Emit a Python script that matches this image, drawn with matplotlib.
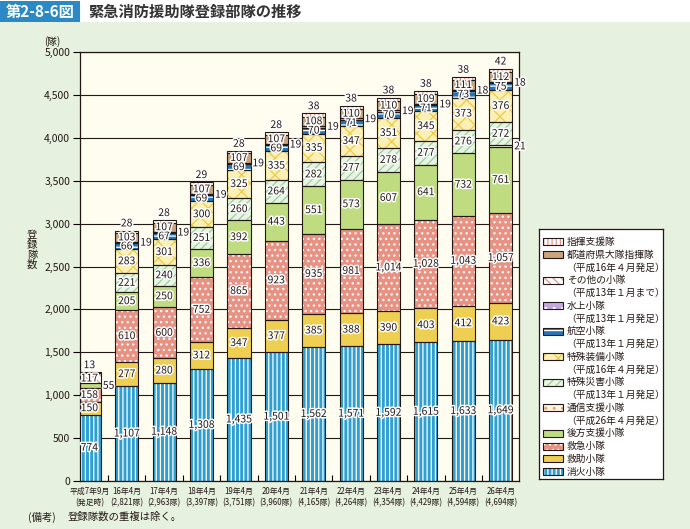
import numpy as np
import matplotlib
matplotlib.use("Agg")
import matplotlib.pyplot as plt
import matplotlib.patheffects as pe
from matplotlib.patches import Rectangle

plt.rcParams['font.family'] = ['Noto Sans CJK JP', 'DejaVu Sans']
plt.rcParams['hatch.linewidth'] = 0.9

#----------------------------------------------------------------------------#
            # Data #
#----------------------------------------------------------------------------#

periods = ['平成7年9月\n(発足時)', '16年4月\n(2,821隊)', '17年4月\n(2,963隊)',
           '18年4月\n(3,397隊)', '19年4月\n(3,751隊)', '20年4月\n(3,960隊)',
           '21年4月\n(4,165隊)', '22年4月\n(4,264隊)', '23年4月\n(4,354隊)',
           '24年4月\n(4,429隊)', '25年4月\n(4,594隊)', '26年4月\n(4,694隊)']

shoka = [774, 1107, 1148, 1308, 1435, 1501, 1562, 1571, 1592, 1615, 1633, 1649]
kyujo = [150, 277, 280, 312, 347, 377, 385, 388, 390, 403, 412, 423]
kyukyu = [158, 610, 600, 752, 865, 923, 935, 981, 1014, 1028, 1043, 1057]
kohou = [55, 205, 250, 336, 392, 443, 551, 573, 607, 641, 732, 761]
tsushin = [0, 0, 0, 0, 0, 0, 0, 0, 0, 0, 0, 21]
tokusai = [0, 221, 240, 251, 260, 264, 282, 277, 278, 277, 276, 272]
tokuso = [0, 283, 301, 300, 325, 335, 335, 347, 351, 345, 373, 376]
koku = [0, 66, 67, 69, 69, 69, 70, 71, 70, 71, 73, 75]
suijo = [0, 19, 19, 19, 19, 19, 19, 19, 19, 19, 18, 18]
sonota = [117, 0, 0, 0, 0, 0, 0, 0, 0, 0, 0, 0]
todofuken = [0, 103, 107, 107, 107, 107, 108, 110, 110, 109, 111, 112]
shiki = [13, 28, 28, 29, 28, 28, 38, 38, 38, 38, 38, 42]

legend_labels = ['指揮支援隊', '都道府県大隊指揮隊\n（平成16年４月発足）',
                 'その他の小隊\n（平成13年１月まで）', '水上小隊\n（平成13年１月発足）',
                 '航空小隊\n（平成13年１月発足）', '特殊装備小隊\n（平成16年４月発足）',
                 '特殊災害小隊\n（平成13年１月発足）', '通信支援小隊\n（平成26年４月発足）',
                 '後方支援小隊', '救急小隊', '救助小隊', '消火小隊']

#----------------------------------------------------------------------------#
            # Styles (bottom -> top) #
#----------------------------------------------------------------------------#

# (values, face, hatch, hatch colour, label place)
series = [
    (shoka, '#2E9FD0', '||||', 'white', 'in'),
    (kyujo, '#EFCF52', None, '#EFCF52', 'in'),
    (kyukyu, '#E89283', '...', 'white', 'in'),
    (kohou, '#BFDD80', None, '#BFDD80', 'in'),
    (tsushin, '#FDF3E6', '..', '#F0A050', 'right'),
    (tokusai, '#E9F5E3', '////', '#98CFA0', 'in'),
    (tokuso, '#FBF0B6', 'xx', '#EDCB45', 'in'),
    (koku, '#2276B8', '---', 'white', 'in'),
    (suijo, '#C3A8DE', '..', 'white', 'right'),
    (sonota, 'white', '\\\\\\\\', '#E8907F', 'in'),
    (todofuken, '#C9A47C', None, '#C9A47C', 'in'),
    (shiki, 'white', '||||', '#E8958A', 'top'),
]

edge = '#231815'
halo = [pe.withStroke(linewidth=2.2, foreground='white')]

#----------------------------------------------------------------------------#
            # Figure #
#----------------------------------------------------------------------------#

W, H = 690, 529
fig = plt.figure(figsize=(6.9, 5.29), dpi=100)
fig.patch.set_facecolor('#E7F1DF')

def fx(px):
    return px / W

def fy(py):
    return 1 - py / H

fig.patches.append(Rectangle((0, fy(22)), 1, 22 / H, transform=fig.transFigure,
                             facecolor='white', edgecolor='none', zorder=0))
fig.patches.append(Rectangle((0, fy(22)), fx(80), 21 / H, transform=fig.transFigure,
                             facecolor='#2B8AC6', edgecolor='none', zorder=1))
fig.text(fx(40), fy(11.5), '第2-8-6図', color='white', fontsize=11, fontweight='bold',
         ha='center', va='center')
fig.text(fx(88), fy(11.5), '緊急消防援助隊登録部隊の推移', color='#333333', fontsize=11,
         fontweight='bold', ha='left', va='center')

ax = fig.add_axes([fx(80), fy(481), fx(519) - fx(80), (481 - 52) / H])
ax.set_facecolor('#FEFDEF')
ax.set_axisbelow(True)

x = np.arange(len(periods))
width = 0.62
bottom = np.zeros(len(periods))

for vals, face, hatch, hcol, place in series:
    vals = np.array(vals, dtype=float)
    nz = vals > 0
    ax.bar(x[nz], vals[nz], width, bottom=bottom[nz], color=face, edgecolor=hcol,
           hatch=hatch, linewidth=0, zorder=2)
    ax.bar(x[nz], vals[nz], width, bottom=bottom[nz], fill=False, edgecolor=edge,
           linewidth=0.8, zorder=3)
    for i in np.where(nz)[0]:
        v = vals[i]
        mid = bottom[i] + v / 2
        txt = f'{int(v):,}'
        if place == 'top':
            ax.text(x[i], bottom[i] + v + 25, txt, ha='center', va='bottom', fontsize=7.5,
                    color=edge, zorder=5, path_effects=halo)
        elif place == 'right' or v < 60:
            ax.text(x[i] + 0.36, mid, txt, ha='left', va='center', fontsize=7.5,
                    color=edge, zorder=5, path_effects=halo)
        else:
            ax.text(x[i], mid, txt, ha='center', va='center', fontsize=7.5,
                    color=edge, zorder=5, path_effects=halo)
    bottom += vals

ax.set_xlim(-0.25, len(periods) - 0.51)
ax.set_ylim(0, 5000)
ax.set_yticks(np.arange(0, 5001, 500))
ax.set_yticklabels([f'{v:,}' for v in range(0, 5001, 500)], fontsize=7.5, color='#231815')
ax.yaxis.grid(True, color=edge, linewidth=0.8)
ax.tick_params(axis='y', direction='out', length=5, width=0.8, pad=2)

ax.set_xticks(x)
ax.set_xticklabels(periods, fontsize=5.7, color='#231815', linespacing=1.35)
ax.tick_params(axis='x', which='major', length=0, pad=4)
ax.set_xticks(x[:-1] + 0.5, minor=True)
ax.tick_params(axis='x', which='minor', direction='in', length=4, width=0.8)

for s in ax.spines.values():
    s.set_color(edge)
    s.set_linewidth(0.9)

fig.text(fx(52), fy(42), '(隊)', fontsize=7, ha='center', va='center', color='#231815')
fig.text(fx(32), fy(250), '登\n録\n隊\n数', fontsize=7.5, ha='center', va='center',
         linespacing=1.0, color='#231815')
fig.text(fx(28), fy(517), '(備考)', fontsize=7.5, ha='left', va='center', color='#231815')
fig.text(fx(68), fy(517), '登録隊数の重複は除く。', fontsize=7.5, ha='left', va='center',
         color='#231815')

#----------------------------------------------------------------------------#
            # Legend #
#----------------------------------------------------------------------------#

lg = fig.add_axes([fx(539), fy(479), fx(663) - fx(539), (479 - 229) / H])
lg.set_xlim(0, 124)
lg.set_ylim(250, 0)
lg.set_xticks([])
lg.set_yticks([])
lg.set_facecolor('white')
for s in lg.spines.values():
    s.set_color(edge)
    s.set_linewidth(0.9)

line = 0
for label, (vals, face, hatch, hcol, place) in zip(legend_labels, series[::-1]):
    yy = 13 + line * 12.75
    lg.add_patch(Rectangle((4, yy - 3.5), 20, 7, facecolor=face, edgecolor=hcol,
                           hatch=hatch, linewidth=0))
    lg.add_patch(Rectangle((4, yy - 3.5), 20, 7, fill=False, edgecolor=edge, linewidth=0.8))
    for k, part in enumerate(label.split('\n')):
        lg.text(28 if k == 0 else 27, yy + k * 12.75, part, fontsize=7, va='center',
                ha='left', color='#231815')
    line += len(label.split('\n'))

fig.savefig('out.png', dpi=100, facecolor=fig.get_facecolor())
